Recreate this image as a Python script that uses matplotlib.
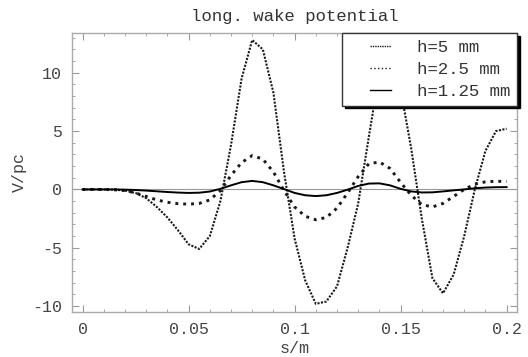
import matplotlib
matplotlib.use("Agg")
import matplotlib.pyplot as plt
import numpy as np
from matplotlib.ticker import MultipleLocator

# ---------------------------------------------------------------------------
# Datos (s en m, V en V/pc)
# ---------------------------------------------------------------------------

s = [0.000, 0.005, 0.010, 0.015, 0.020, 0.025, 0.030, 0.035, 0.040, 0.045,
     0.050, 0.055, 0.060, 0.065, 0.070, 0.075, 0.080, 0.085, 0.090, 0.095,
     0.100, 0.105, 0.110, 0.115, 0.120, 0.125, 0.130, 0.135, 0.140, 0.145,
     0.150, 0.155, 0.160, 0.165, 0.170, 0.175, 0.180, 0.185, 0.190, 0.195,
     0.200]

h5 = [0.0, 0.0, 0.0, -0.02, -0.1, -0.3, -0.75, -1.5, -2.4, -3.5,
      -4.7, -5.1, -4.0, -1.0, 3.8, 9.5, 12.8, 12.0, 8.3, 1.5,
      -4.2, -7.8, -9.8, -9.6, -8.3, -5.0, -1.2, 4.5, 10.0, 11.0,
      8.6, 3.5, -2.5, -7.6, -8.9, -7.3, -4.0, 0.0, 3.3, 5.0,
      5.2]

h25 = [0.0, 0.0, 0.0, -0.03, -0.1, -0.3, -0.6, -0.9, -1.1, -1.22,
       -1.26, -1.2, -0.9, -0.1, 1.2, 2.3, 2.9, 2.6, 1.5, -0.1,
       -1.5, -2.3, -2.6, -2.4, -1.6, -0.3, 1.1, 2.2, 2.35, 1.8,
       0.6, -0.5, -1.3, -1.5, -1.2, -0.6, 0.0, 0.45, 0.65, 0.7,
       0.68]

h125 = [0.0, 0.0, 0.0, 0.0, -0.02, -0.05, -0.1, -0.16, -0.22, -0.27,
        -0.3, -0.28, -0.18, 0.05, 0.35, 0.62, 0.73, 0.62, 0.35, 0.03,
        -0.3, -0.5, -0.57, -0.5, -0.3, -0.02, 0.3, 0.5, 0.52, 0.35,
        0.05, -0.17, -0.26, -0.25, -0.17, -0.08, 0.0, 0.1, 0.16, 0.19,
        0.2]

etiquetas = ["h=5 mm", "h=2.5 mm", "h=1.25 mm"]

# ---------------------------------------------------------------------------
# Figura
# ---------------------------------------------------------------------------

plt.rcParams["font.family"] = ["Liberation Mono", "DejaVu Sans Mono"]

fig = plt.figure(figsize=(5.28, 3.57), dpi=100)
ax = fig.add_axes([72 / 528, 1 - 312 / 357, 445 / 528, 279 / 357])

ax.axhline(0, color="#999999", lw=0.8, zorder=1)

ax.plot(s, h5, color="#1a1a1a", lw=1.5, linestyle=(0, (1, 0.7)),
        label=etiquetas[0], zorder=3)
ax.plot(s, h25, color="#1a1a1a", lw=2.1, linestyle=(0, (1, 1.7)),
        label=etiquetas[1], zorder=3)
ax.plot(s, h125, color="black", lw=1.4, label=etiquetas[2], zorder=3)

ax.set_xlim(-0.005, 0.2049)
ax.set_ylim(-10.5, 13.4)

ax.xaxis.set_minor_locator(MultipleLocator(0.01))
ax.yaxis.set_minor_locator(MultipleLocator(1))
ax.set_xticks([0, 0.05, 0.1, 0.15, 0.2])
ax.set_xticklabels(["0", "0.05", "0.1", "0.15", "0.2"])
ax.set_yticks([-10, -5, 0, 5, 10])
ax.set_yticklabels(["-10", "-5", "0", "5", "10"])

ax.tick_params(which="both", direction="in", top=True, right=True,
               color="#999999", labelsize=12, labelcolor="#444444", pad=7)
ax.tick_params(which="major", length=5, width=0.8)
ax.tick_params(which="minor", length=2.5, width=0.6)
for lado in ax.spines.values():
    lado.set_color("#aaaaaa")
    lado.set_linewidth(1.0)

ax.set_xlabel("s/m", fontsize=12, color="#444444", labelpad=3)
ax.set_ylabel("V/pc", fontsize=12, color="#444444", labelpad=4)
ax.set_title("long. wake potential", fontsize=12.5, color="#333333", pad=9)

# leyenda con muestras cortas, corridas hacia la derecha del hueco
tam_ley = 12.5
largo_hueco = 2.4
largo_muestra = 1.2
ley = ax.legend(loc="upper right", fontsize=tam_ley, frameon=True,
                fancybox=False, framealpha=1, edgecolor="#333333",
                handlelength=largo_hueco, handletextpad=1.5, borderpad=0.4,
                labelspacing=0.38, borderaxespad=0.0,
                shadow={"color": "black", "alpha": 1.0})
ley.get_frame().set_linewidth(1.0)
for t in ley.get_texts():
    t.set_color("#333333")
for linea in ley.get_lines():
    n = len(linea.get_ydata())
    x0 = (largo_hueco - largo_muestra) * tam_ley
    x1 = largo_hueco * tam_ley
    linea.set_xdata(np.linspace(x0, x1, n))
    linea.set_linewidth(1.0)

fig.savefig("out.png", dpi=100)
